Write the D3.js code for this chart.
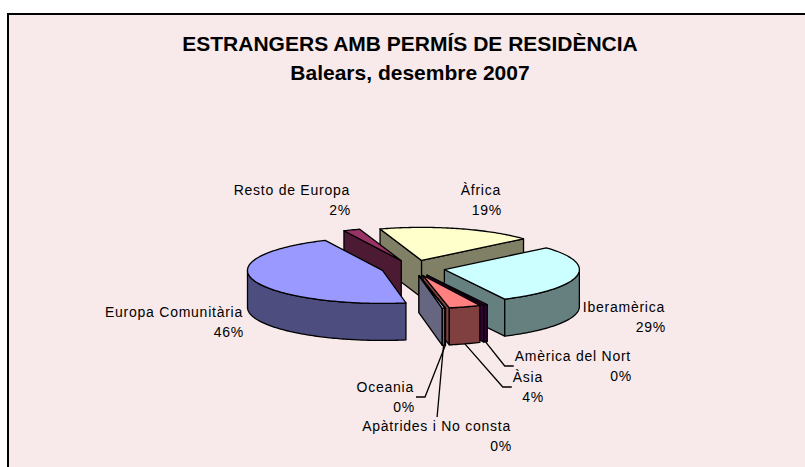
<!DOCTYPE html>
<html><head><meta charset="utf-8">
<script src="https://cdn.jsdelivr.net/npm/d3@7"></script>
<style>
body{margin:0;background:#fff;}
svg{display:block;font-family:"Liberation Sans",Arial,sans-serif;}
</style>
</head><body>
<svg id="c" width="805" height="467"></svg>
<script>
// ---- data ----
const categories = ["Europa Comunitària","Resto de Europa","Àfrica","Iberamèrica","Amèrica del Nort","Àsia","Oceania","Apàtrides i No consta"];
const values = [45.8, 2.0, 18.6, 29.0, 0.45, 3.8, 0.05, 0.3];
const titleLines = ["ESTRANGERS AMB PERMÍS DE RESIDÈNCIA","Balears, desembre 2007"];

// ---- styles ----
const topColors  = ["#9999FF","#993366","#FFFFCC","#CCFFFF","#660066","#FF8080","#0066CC","#CCCCFF"];
const sideColors = ["#4D4D80","#4D1A33","#808066","#668080","#330033","#804040","#003366","#666680"];

// ---- layout ----
const labelLayout = [
  {x:243, y:317, leader:null},
  {x:350, y:195, leader:null},
  {x:501, y:195, leader:null},
  {x:665, y:312, leader:null},
  {x:631, y:361, leader:"left"},
  {x:543, y:382, leader:"left"},
  {x:414, y:392, leader:"right"},
  {x:511, y:431, leader:"top"}
];
const CX = 413, CY = 268, RX = 135, TILT = 0.245, DEPTH = 37, EXPLODE = 0.237, START_DEG = 170;

const svg = d3.select("#c");
svg.append("rect").attr("x",8).attr("y",14).attr("width",830).attr("height",480)
  .attr("fill","#F8EAEA").attr("stroke","#000").attr("stroke-width",2);

svg.selectAll("text.title").data(titleLines).enter().append("text")
  .attr("class","title")
  .attr("x",410).attr("y",(d,i)=>i===0?51:80)
  .attr("text-anchor","middle").attr("font-weight","bold").attr("font-size",21)
  .attr("fill","#000").text(d=>d);

// scales: unit pie coordinates -> screen
const xScale = d3.scaleLinear().domain([-1,1]).range([CX-RX, CX+RX]);
const zScale = d3.scaleLinear().domain([-1,1]).range([CY-RX*TILT, CY+RX*TILT]);

const data = categories.map((c,i)=>({name:c, v:values[i], i}));
const s0 = START_DEG*Math.PI/180;
const pie = d3.pie().sort(null).value(d=>d.v).startAngle(s0).endAngle(s0+2*Math.PI);
const arcs = pie(data);

arcs.forEach(a=>{
  a.mid = (a.startAngle+a.endAngle)/2;
  a.tip = {x: EXPLODE*Math.sin(a.mid), z: -EXPLODE*Math.cos(a.mid)};
});
const rimPt = (a, th) => ({x: a.tip.x + Math.sin(th), z: a.tip.z - Math.cos(th)});
const P = (p, down=0) => [xScale(p.x), zScale(p.z) + down];
const line = d3.line();

function sampleArc(a, t0, t1){
  const n = Math.max(2, Math.ceil(Math.abs(t1-t0)/(Math.PI/180)) + 1);
  return d3.range(n).map(k=> rimPt(a, t0 + (t1-t0)*k/(n-1)));
}

const order = arcs.slice().sort((p,q)=> (-Math.cos(p.mid)) - (-Math.cos(q.mid)));
const gWalls = svg.append("g");
const gTops = svg.append("g");
const faceStyle = sel => sel.attr("stroke","#000").attr("stroke-width",1.3).attr("stroke-linejoin","round");

order.forEach(a=>{
  const i = a.data.i;
  // radial faces
  const faces = [];
  if (Math.sin(a.startAngle) < 0) faces.push(a.startAngle);
  if (Math.sin(a.endAngle) > 0) faces.push(a.endAngle);
  faces.forEach(th=>{
    const r = rimPt(a, th);
    const pts = [P(a.tip), P(r), P(r,DEPTH), P(a.tip,DEPTH)];
    gWalls.append("path").attr("d", line(pts)+"Z").attr("fill", sideColors[i]).call(faceStyle);
  });
  // outer wall (front-facing part)
  for (let n=-1;n<=2;n++){
    const lo = Math.max(a.startAngle, Math.PI/2 + 2*Math.PI*n);
    const hi = Math.min(a.endAngle, 3*Math.PI/2 + 2*Math.PI*n);
    if (hi > lo){
      const top = sampleArc(a, lo, hi).map(p=>P(p));
      const bot = sampleArc(a, hi, lo).map(p=>P(p,DEPTH));
      gWalls.append("path").attr("d", line(top.concat(bot))+"Z").attr("fill", sideColors[i]).call(faceStyle);
    }
  }
});
// top faces
arcs.forEach(a=>{
  const pts = [P(a.tip)].concat(sampleArc(a, a.startAngle, a.endAngle).map(p=>P(p)));
  gTops.append("path").attr("d", line(pts)+"Z").attr("fill", topColors[a.data.i]).call(faceStyle);
});

// labels
const fmt = v => Math.round(v) + "%";
const gLab = svg.append("g");
arcs.forEach(a=>{
  const i = a.data.i, L = labelLayout[i];
  const t = gLab.append("text").attr("text-anchor","end").attr("font-size",14)
    .attr("letter-spacing","0.75px").attr("fill","#000");
  t.append("tspan").attr("x",L.x).attr("y",L.y).text(a.data.name);
  t.append("tspan").attr("x",L.x+1).attr("y",L.y+20).text(fmt(a.data.v));
  if (L.leader){
    const bb = t.node().getBBox();
    const start = P(rimPt(a, a.mid), DEPTH);
    let pts;
    const cyb = bb.y + bb.height/2;
    if (L.leader==="left") pts = [start, [bb.x-10, cyb], [bb.x-1, cyb]];
    else if (L.leader==="right") pts = [start, [bb.x+bb.width+10, cyb], [bb.x+bb.width+1, cyb]];
    else pts = [start, [bb.x+bb.width/2, bb.y-1]];
    gLab.append("path").attr("d", line(pts)).attr("fill","none").attr("stroke","#000").attr("stroke-width",1.3);
  }
});
</script>
</body></html>
